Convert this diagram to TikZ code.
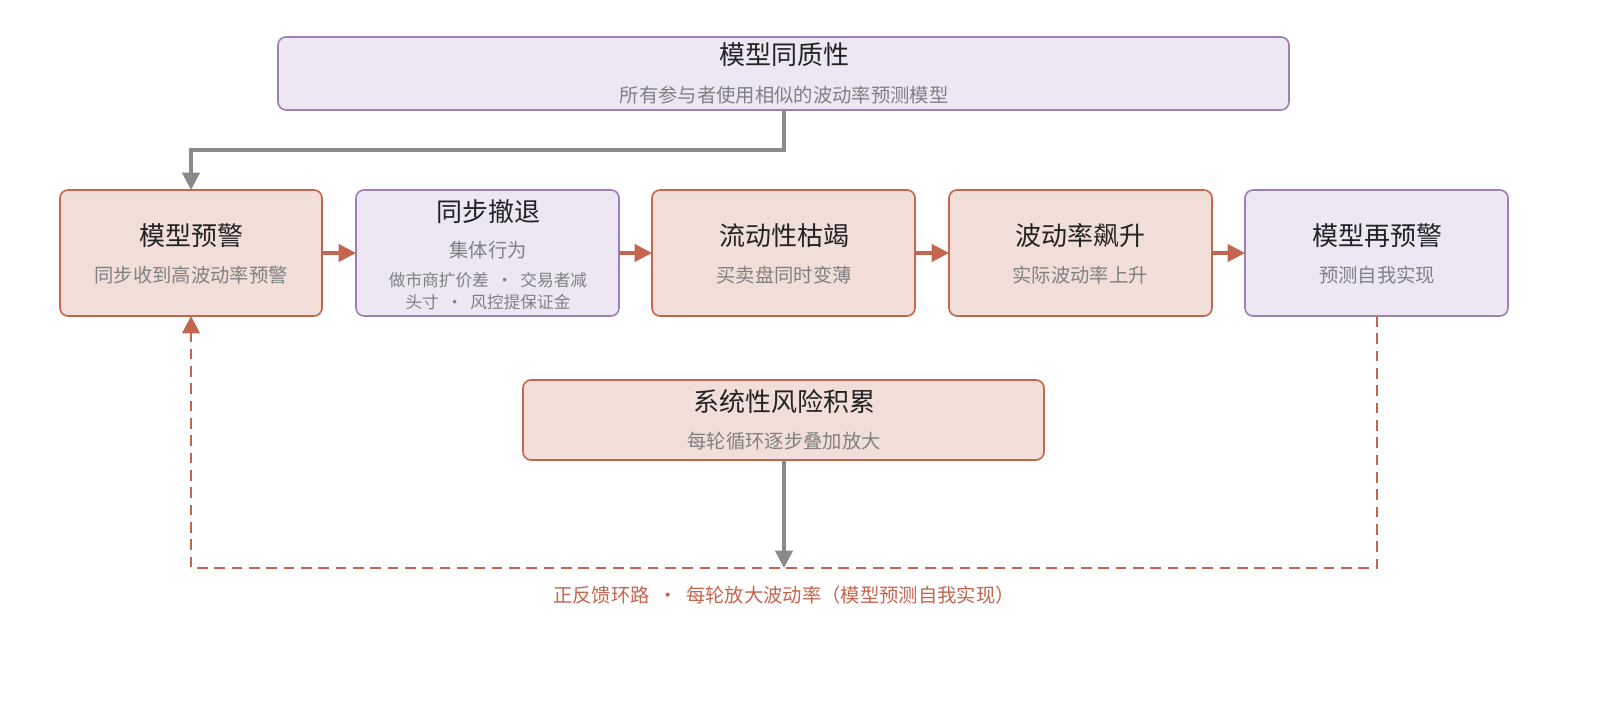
\documentclass[tikz,border=0pt]{standalone}
\usepackage{fontspec}
\setmainfont{Noto Sans CJK SC}
\usetikzlibrary{arrows.meta}
\definecolor{sf}{HTML}{F2DED8}\definecolor{sb}{HTML}{C4654F}
\definecolor{pf}{HTML}{EDE7F3}\definecolor{pb}{HTML}{9C80B2}
\definecolor{gr}{HTML}{8A8A8A}\definecolor{tx}{HTML}{222222}\definecolor{st}{HTML}{808080}
\begin{document}
\begin{tikzpicture}[x=0.75pt,y=-0.75pt,
 box/.style={draw,line width=1.2pt,rounded corners=6pt},
 sal/.style={box,fill=sf,draw=sb},
 pur/.style={box,fill=pf,draw=pb},
 tt/.style={text=tx,font=\fontsize{19.5}{22}\selectfont},
 sb2/.style={text=st,font=\fontsize{14.5}{16}\selectfont},
 sm/.style={text=st,font=\fontsize{12.5}{14}\selectfont},
 fa/.style={draw=sb,line width=2.3pt,-{Triangle[length=13pt,width=13pt]}},
 ga/.style={draw=gr,line width=2.3pt,-{Triangle[length=13pt,width=13pt]}},
 da/.style={draw=sb,line width=2.2pt,dash pattern=on 8pt off 5pt,-{Triangle[length=13pt,width=13pt]}}]
\useasboundingbox (0,0) rectangle (1600,720);
\draw[pur] (278,37) rectangle (1289,110); \coordinate (top) at (784,110);
\node[tt] at (784,55) {模型同质性};
\node[sb2] at (784,95) {所有参与者使用相似的波动率预测模型};
\draw[sal] (60,190) rectangle (322,316);
\draw[pur] (356,190) rectangle (619,316);
\draw[sal] (652,190) rectangle (915,316);
\draw[sal] (949,190) rectangle (1212,316);
\draw[pur] (1245,190) rectangle (1508,316);
\coordinate (b1t) at (191,190); \coordinate (b1b) at (191,316);
\node[tt] at (191,236) {模型预警}; \node[sb2] at (191,275) {同步收到高波动率预警};
\node[tt] at (488,212) {同步撤退}; \node[sb2] at (488,250) {集体行为};
\node[sm] at (488,280) {做市商扩价差 \ · \ 交易者减}; \node[sm] at (488,302) {头寸 \ · \ 风控提保证金};
\node[tt] at (784,236) {流动性枯竭}; \node[sb2] at (784,275) {买卖盘同时变薄};
\node[tt] at (1080,236) {波动率飙升}; \node[sb2] at (1080,275) {实际波动率上升};
\node[tt] at (1377,236) {模型再预警}; \node[sb2] at (1377,275) {预测自我实现};
\foreach \a/\b in {322/356,619/652,915/949,1212/1245}
  \draw[fa] (\a,253) -- (\b,253);
\draw[ga] (top) -- (784,150) -- (191,150) -- (b1t);
\draw[sal] (523,380) rectangle (1044,460); \coordinate (bb) at (784,460);
\node[tt] at (784,402) {系统性风险积累}; \node[sb2] at (784,441) {每轮循环逐步叠加放大};
\draw[ga] (bb) -- (784,568);
\draw[da] (1377,316) -- (1377,568) -- (191,568) -- (b1b);
\node[text=sb,font=\fontsize{14.5}{16}\selectfont] at (784,595) {正反馈环路 \ · \ 每轮放大波动率（模型预测自我实现）};
\end{tikzpicture}
\end{document}
